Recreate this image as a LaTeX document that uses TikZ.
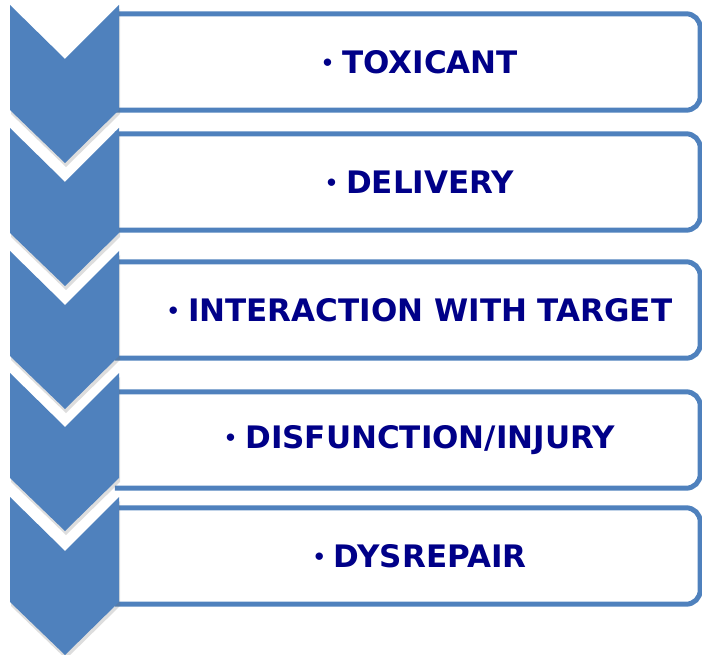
\documentclass[tikz,border=0pt]{standalone}
\usepackage{fontspec}
\usepackage{tikz}
\usetikzlibrary{positioning, shadows}
\newfontfamily\stepfont{DejaVu Sans}
\definecolor{chevblue}{HTML}{4F81BD}
\definecolor{textnavy}{HTML}{000088}
\newcommand\itembullet{{\fontsize{21}{21}\selectfont\raisebox{3pt}{•}}\hspace{8pt}}

\begin{document}
\begin{tikzpicture}[x=1pt, y=-1pt, on grid,
    stepbox/.style={minimum width=561pt, minimum height=96pt, inner sep=0pt,
        text=textnavy, font=\stepfont\bfseries\fontsize{31}{36}\selectfont},
    boxline/.style={draw=chevblue, line width=5pt, rounded corners=14pt},
    chevron/.style={fill=chevblue, drop shadow={shadow xshift=1pt, shadow yshift=-4pt, opacity=0.22, fill=black!60}}]
    \useasboundingbox (0,0) rectangle (702,655);

    \node[stepbox] (toxicant) at (419.5,62) {\itembullet TOXICANT};
    \node[stepbox] (delivery) [below=120pt of toxicant] {\itembullet DELIVERY};
    \node[stepbox] (interaction) [below=128pt of delivery] {\itembullet INTERACTION WITH TARGET};
    \node[stepbox] (injury) [below=130pt of interaction] {\itembullet DISFUNCTION/INJURY};
    \node[stepbox] (dysrepair) [below=116pt of injury] {\itembullet DYSREPAIR};

    \foreach \b in {toxicant, delivery, interaction, injury, dysrepair}
    \draw[boxline] ([xshift=-24pt]\b.north west) -- (\b.north east) -- (\b.south east) -- ([xshift=-24pt]\b.south west);

    \foreach \t in {5, 128, 251, 373, 497}
    \path[chevron] (10,\t) -- (65,\t+54) -- (119,\t) -- (119,\t+105) -- (65,\t+158) -- (10,\t+105) -- cycle;

\end{tikzpicture}
\end{document}
